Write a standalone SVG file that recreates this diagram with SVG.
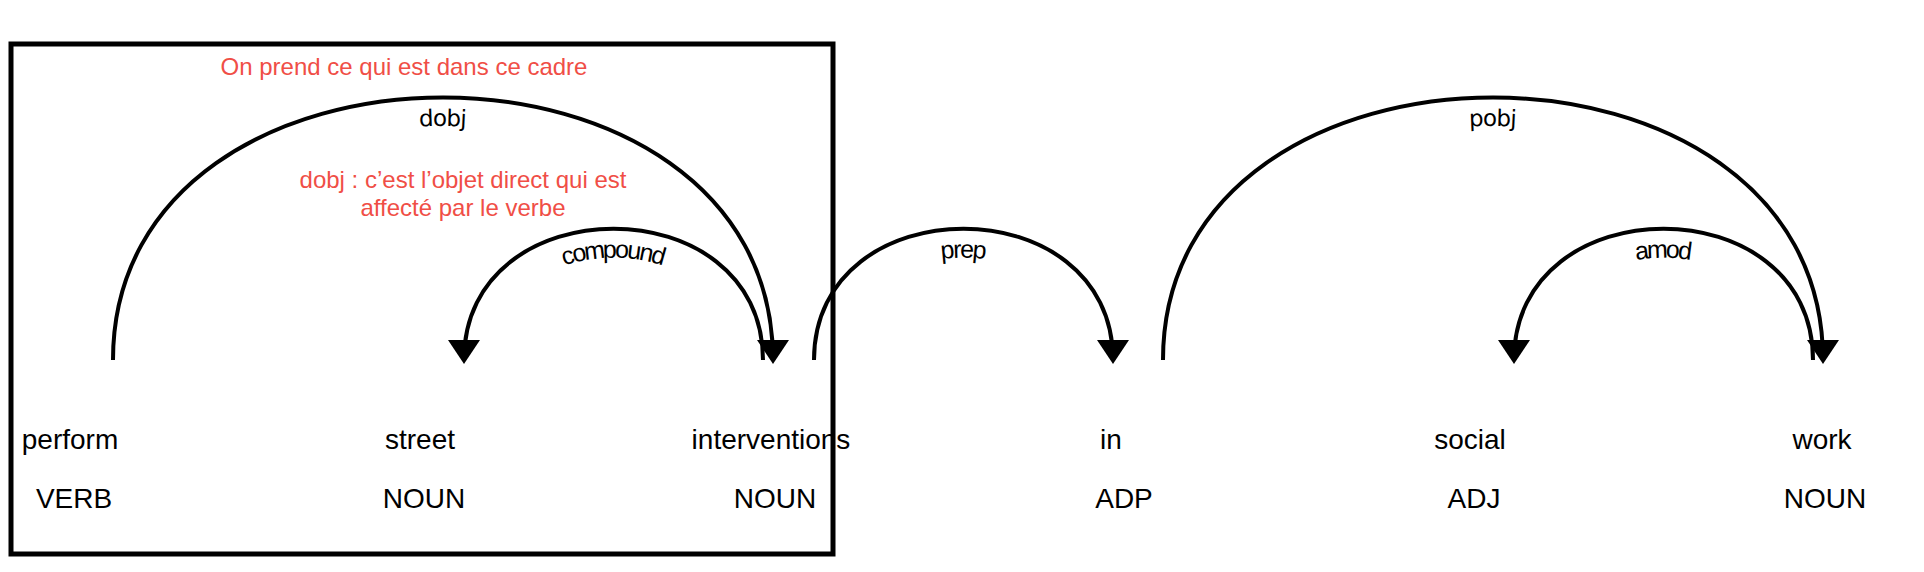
<svg xmlns="http://www.w3.org/2000/svg" width="1924" height="572" viewBox="0 0 1924 572">
<style>
.word{font-family:"Liberation Sans",Arial,sans-serif;font-size:28px;fill:#000;text-anchor:middle}
.lbl{font-family:"Liberation Sans",Arial,sans-serif;font-size:25px;fill:#000;text-anchor:middle}
.lbl2{font-family:"DejaVu Sans",sans-serif;font-size:23px;fill:#000;text-anchor:middle}
.arc{fill:none;stroke:#000;stroke-width:4}
.head{fill:#000;stroke:none}
.note{font-family:"Liberation Sans",Arial,sans-serif;font-size:24px;fill:#F04E46;text-anchor:middle}
.frame{fill:none;stroke:#000;stroke-width:5}
</style>
<rect width="1924" height="572" fill="#fff"/>
<g id="frame">
<rect class="frame" x="11" y="44" width="822" height="510"/>
<text class="note" x="404" y="75">On prend ce qui est dans ce cadre</text>
</g>
<g id="note-dobj">
<text class="note" x="463" y="188">dobj : c’est l’objet direct qui est</text>
<text class="note" x="463" y="216">affecté par le verbe</text>
</g>
<g id="connectors">
<path id="arc-dobj" class="arc" d="M113,360 C113,10 773,10 773,360"/>
<path class="head" d="M773,364 L757,340 L789,340 Z"/>
<text class="lbl2" dy="28.5"><textPath href="#arc-dobj" startOffset="50%">dobj</textPath></text>

<path id="arc-compound" class="arc" d="M464,360 C464,185 763,185 763,360"/>
<path class="head" d="M464,364 L448,340 L480,340 Z"/>
<text class="lbl" dy="29"><textPath href="#arc-compound" startOffset="50%">compound</textPath></text>

<path id="arc-prep" class="arc" d="M814,360 C814,185 1113,185 1113,360"/>
<path class="head" d="M1113,364 L1097,340 L1129,340 Z"/>
<text class="lbl" dy="29"><textPath href="#arc-prep" startOffset="50%">prep</textPath></text>

<path id="arc-pobj" class="arc" d="M1163,360 C1163,10 1823,10 1823,360"/>
<path class="head" d="M1823,364 L1807,340 L1839,340 Z"/>
<text class="lbl2" dy="28.5"><textPath href="#arc-pobj" startOffset="50%">pobj</textPath></text>

<path id="arc-amod" class="arc" d="M1514,360 C1514,185 1813,185 1813,360"/>
<path class="head" d="M1514,364 L1498,340 L1530,340 Z"/>
<text class="lbl" dy="29"><textPath href="#arc-amod" startOffset="50%">amod</textPath></text>
</g>
<g id="w-perform"><text class="word" x="70" y="449">perform</text><text class="word" x="74" y="508">VERB</text></g>
<g id="w-street"><text class="word" x="420" y="449">street</text><text class="word" x="424" y="508">NOUN</text></g>
<g id="w-interventions"><text class="word" x="771" y="449">interventions</text><text class="word" x="775" y="508">NOUN</text></g>
<g id="w-in"><text class="word" x="1111" y="449">in</text><text class="word" x="1124" y="508">ADP</text></g>
<g id="w-social"><text class="word" x="1470" y="449">social</text><text class="word" x="1474" y="508">ADJ</text></g>
<g id="w-work"><text class="word" x="1822" y="449">work</text><text class="word" x="1825" y="508">NOUN</text></g>
</svg>
